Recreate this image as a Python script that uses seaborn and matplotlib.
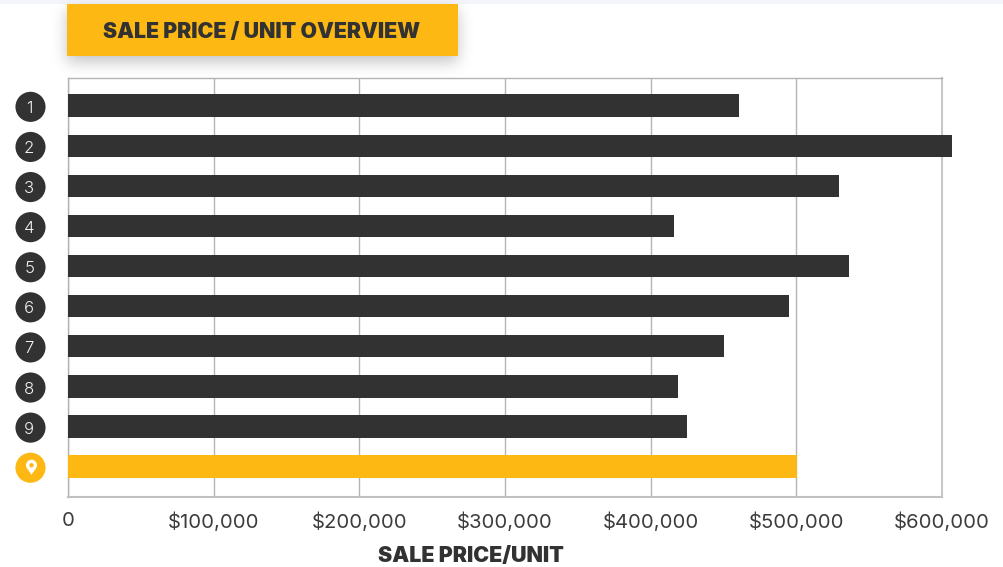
import math
import pandas as pd
import numpy as np
import matplotlib
matplotlib.use("Agg")
import matplotlib.pyplot as plt
import seaborn as sns
from matplotlib.patches import Rectangle
from matplotlib.path import Path
from matplotlib.ticker import FuncFormatter

# sale price per unit
comps = ["1", "2", "3", "4", "5", "6", "7", "8", "9", "subject"]
prices = [460500, 607000, 529500, 416000, 536000, 495000, 450000, 419000, 425000, 500500]
groups = ["comp"] * 9 + ["subject"]
xticks = [0, 100000, 200000, 300000, 400000, 500000, 600000]

DARK = "#323232"
GOLD = "#FDB813"
W, H = 1003, 567

sns.set_theme(style="white")
plt.rcParams["font.family"] = ["Inter", "DejaVu Sans"]

df = pd.DataFrame({"comp": comps, "price": prices, "group": groups})

fig = plt.figure(figsize=((W + 0.01) / 100, (H + 0.01) / 100), dpi=100, facecolor="white")
ax = fig.add_axes([68 / W, 1 - 497 / H, 874 / W, 419 / H])

sns.barplot(data=df, x="price", y="comp", hue="group", dodge=False, legend=False,
            palette={"comp": DARK, "subject": GOLD}, width=0.56, saturation=1,
            linewidth=0, ax=ax)
for bar in ax.patches:
    bar.set_clip_on(False)
    bar.set_zorder(3)

ax.set_xlim(0, 600000)
ax.set_ylim(9.76, -0.69)
ax.set_xticks(xticks)
ax.xaxis.set_major_formatter(FuncFormatter(lambda v, _: "0" if v == 0 else f"${v:,.0f}"))
ax.tick_params(axis="x", length=0, pad=11, labelsize=14.6, labelcolor="#3c3c3c")
ax.grid(axis="x", color="#b4b4b4", lw=1)
ax.set_axisbelow(True)
ax.set_yticks([])
ax.set_ylabel("")
ax.set_xlabel("SALE PRICE/UNIT", fontsize=15.4, fontweight=900, color=DARK, va="center")
ax.xaxis.set_label_coords((471 - 68) / 874, -(556 - 497) / 419)
for side, spine in ax.spines.items():
    spine.set_color("#b4b4b4")
    spine.set_linewidth(1)
ax.spines["right"].set_color("#c8c8c8")
ax.spines["right"].set_linewidth(1.5)
ax.spines["bottom"].set_color("#c0c0c0")
ax.spines["bottom"].set_linewidth(1.5)

# numbered badges left of the bars
trans = ax.get_yaxis_transform()
ypos = np.arange(len(comps)) + 0.03
colors = [DARK] * 9 + [GOLD]
ax.scatter([-0.0429] * len(comps), ypos, s=470, c=colors, linewidths=0, transform=trans,
           clip_on=False, zorder=4)
for i, label in enumerate(comps[:9]):
    ax.text(-0.0445, i + 0.03, label, transform=trans, ha="center", va="center_baseline",
            color="#f2f2f2", fontsize=12, fontweight=300, zorder=5)

# map pin for the subject property
k = 0.5523
pin = Path(
    [(0, -1), (-0.2, -0.6), (-0.75, -0.1), (-0.75, 0.3),
     (-0.75, 0.3 + 0.75 * k), (-0.75 * k, 1.05), (0, 1.05),
     (0.75 * k, 1.05), (0.75, 0.3 + 0.75 * k), (0.75, 0.3),
     (0.75, -0.1), (0.2, -0.6), (0, -1), (0, -1),
     (0, 0.6), (-0.3 * k, 0.6), (-0.3, 0.3 + 0.3 * k), (-0.3, 0.3),
     (-0.3, 0.3 - 0.3 * k), (-0.3 * k, 0), (0, 0),
     (0.3 * k, 0), (0.3, 0.3 - 0.3 * k), (0.3, 0.3),
     (0.3, 0.3 + 0.3 * k), (0.3 * k, 0.6), (0, 0.6), (0, 0.6)],
    [Path.MOVETO] + [Path.CURVE4] * 12 + [Path.CLOSEPOLY,
     Path.MOVETO] + [Path.CURVE4] * 12 + [Path.CLOSEPOLY],
)
ax.scatter([-0.0429], [9.0], s=125, marker=pin, c="white", linewidths=0, transform=trans,
           clip_on=False, zorder=5)

# top band, title box and its soft shadow
fig.add_artist(Rectangle((0, 1 - 4 / H), 1, 4 / H, transform=fig.transFigure, color="#f4f5fb", lw=0))
x0, x1, y0, y1 = 67, 458, 4, 56
erf = np.vectorize(math.erf)
px = np.arange(W) + 0.5
py = np.arange(H) + 0.5
blur = 11.0
sx = 0.5 * (erf((px - x0) / blur) - erf((px - x1) / blur))
sy = 0.5 * (erf((py - y0 - 6) / blur) - erf((py - y1 - 6) / blur))
shadow = np.zeros((H, W, 4))
shadow[..., 3] = 0.24 * np.outer(sy, sx)
fig.figimage(shadow, 0, 0, origin="upper", zorder=1.5)
fig.add_artist(Rectangle((x0 / W, 1 - y1 / H), (x1 - x0) / W, (y1 - y0) / H,
                         transform=fig.transFigure, color=GOLD, lw=0, zorder=2))
fig.text(262 / W, 1 - 31.5 / H, "SALE PRICE / UNIT OVERVIEW", ha="center", va="center",
         fontsize=15.3, fontweight=900, color=DARK, zorder=3)

fig.savefig("out.png", dpi=100)
